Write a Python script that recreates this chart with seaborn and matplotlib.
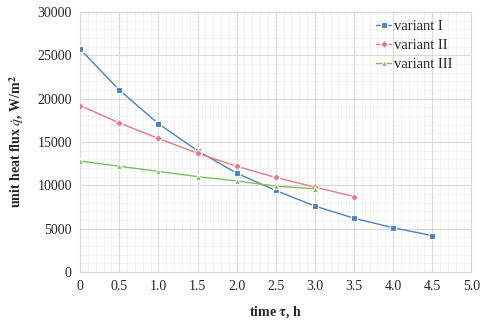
import numpy as np
import pandas as pd
import matplotlib
matplotlib.use("Agg")
import matplotlib.pyplot as plt
import seaborn as sns
from matplotlib.ticker import MultipleLocator

# values
time_1 = [0, 0.5, 1.0, 1.5, 2.0, 2.5, 3.0, 3.5, 4.0, 4.5]
flux_1 = [25700, 21000, 17100, 14000, 11400, 9400, 7600, 6200, 5100, 4200]
time_2 = [0, 0.5, 1.0, 1.5, 2.0, 2.5, 3.0, 3.5]
flux_2 = [19200, 17200, 15400, 13700, 12200, 10900, 9800, 8700]
time_3 = [0, 0.5, 1.0, 1.5, 2.0, 2.5, 3.0]
flux_3 = [12800, 12200, 11600, 11000, 10500, 9900, 9600]
names = ["variant I", "variant II", "variant III"]
x_ticks = [0, 0.5, 1.0, 1.5, 2.0, 2.5, 3.0, 3.5, 4.0, 4.5, 5.0]
x_labels = ["0", "0.5", "1.0", "1.5", "2.0", "2.5", "3.0", "3.5", "4.0", "4.5", "5.0"]

df = pd.concat([
    pd.DataFrame({"t": time_1, "q": flux_1, "variant": names[0]}),
    pd.DataFrame({"t": time_2, "q": flux_2, "variant": names[1]}),
    pd.DataFrame({"t": time_3, "q": flux_3, "variant": names[2]}),
])

sns.set_theme(style="white")
plt.rcParams["font.family"] = ["Liberation Serif", "DejaVu Serif"]
plt.rcParams["mathtext.fontset"] = "stix"

fig = plt.figure(figsize=(4.8, 3.23), dpi=100)
ax = fig.add_axes([0.167, 0.158, 0.815, 0.805])

palette = {"variant I": "#4f81bd", "variant II": "#e57a86", "variant III": "#7cc05e"}
markers = {"variant I": "s", "variant II": "D", "variant III": "^"}
sns.lineplot(data=df, x="t", y="q", hue="variant", style="variant",
             palette=palette, markers=markers, dashes=False, markersize=4.5,
             linewidth=1.0, markeredgewidth=0.8, ax=ax, zorder=3)

ax.set_xlim(0, 5.0)
ax.set_ylim(0, 30000)
ax.set_xticks(x_ticks)
ax.set_xticklabels(x_labels)
ax.yaxis.set_major_locator(MultipleLocator(5000))
ax.xaxis.set_minor_locator(MultipleLocator(0.1))
ax.yaxis.set_minor_locator(MultipleLocator(1000))
ax.grid(which="major", color="#d9d9d9", linewidth=0.8)
ax.grid(which="minor", color="#ededed", linewidth=0.5)
ax.tick_params(which="both", length=0, labelsize=10, pad=6)
for s in ax.spines.values():
    s.set_color("#d9d9d9")
    s.set_linewidth(0.8)

ax.set_xlabel(r"time $\mathbf{\tau}$, h", fontsize=10, fontweight="bold", labelpad=8)
ax.set_ylabel(r"unit heat flux $\dot{q}$, W/m$^\mathbf{2}$", fontsize=10,
              fontweight="bold", labelpad=8)

leg = ax.legend(loc="upper right", frameon=False, fontsize=10.5, handlelength=1.0,
                handletextpad=0.2, labelspacing=0.4, bbox_to_anchor=(0.985, 1.02))

fig.savefig("out.png", dpi=100)
